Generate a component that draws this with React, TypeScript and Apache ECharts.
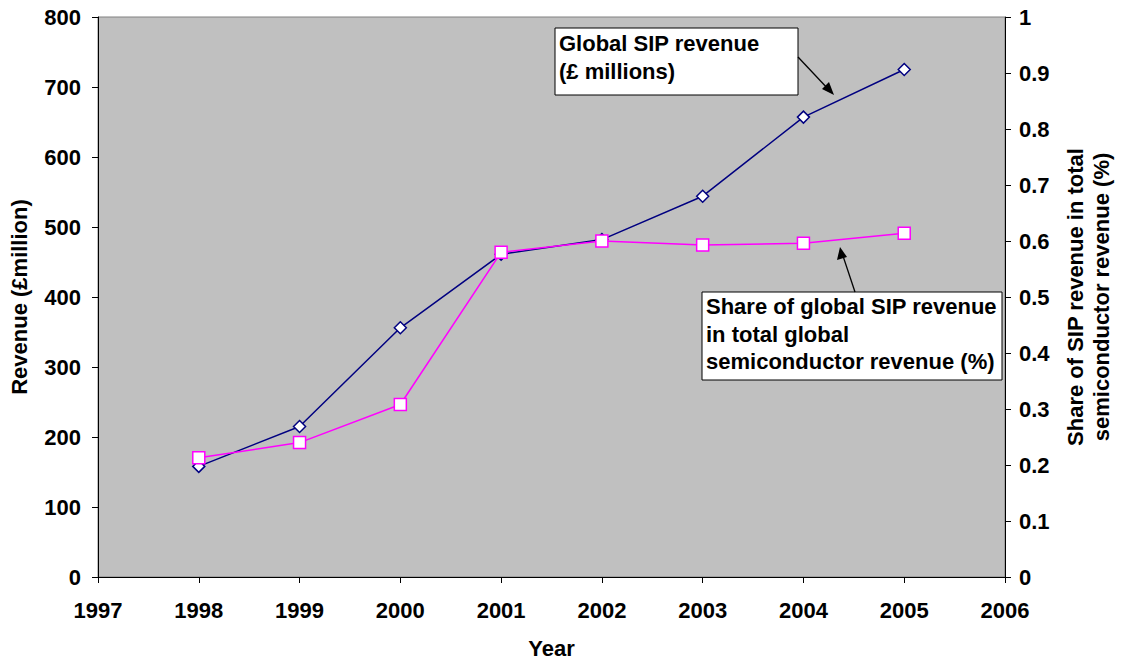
import React, { useEffect, useRef } from "react";
import * as echarts from "echarts";

const years = [1998, 1999, 2000, 2001, 2002, 2003, 2004, 2005];
const revenue = [158, 215, 356, 461, 482, 544, 657, 725];
const share = [0.213, 0.24, 0.308, 0.58, 0.6, 0.593, 0.596, 0.614];

const FONT = "'Liberation Sans', Arial, Helvetica, sans-serif";
const FS = 22;

export default function App() {
  const ref = useRef<HTMLDivElement>(null);
  useEffect(() => {
    if (!ref.current) return;
    const chart = echarts.init(ref.current, null, { renderer: "svg" });
    const axisCommon = {
      axisLine: { show: true, lineStyle: { color: "#000", width: 1 } },
      axisTick: { show: true, length: 6, lineStyle: { color: "#000" } },
      splitLine: { show: false },
      nameTextStyle: { fontFamily: FONT, fontSize: FS, fontWeight: "bold", color: "#000" },
    };
    const labelStyle = { fontFamily: FONT, fontSize: FS, fontWeight: "bold", color: "#000" };
    const textStyle = { fontFamily: FONT, fontSize: FS, fontWeight: "bold", fill: "#000" };
    chart.setOption({
      animation: false,
      textStyle: { fontFamily: FONT },
      grid: {
        left: 98,
        top: 17,
        right: 124,
        bottom: 85,
        show: true,
        backgroundColor: "#C0C0C0",
        borderColor: "#808080",
        borderWidth: 1,
      },
      xAxis: {
        type: "value",
        min: 1997,
        max: 2006,
        interval: 1,
        name: "Year",
        nameLocation: "middle",
        nameGap: 60,
        ...axisCommon,
        axisLabel: { ...labelStyle, margin: 22, formatter: (v: number) => String(v) },
      },
      yAxis: [
        {
          type: "value",
          min: 0,
          max: 800,
          interval: 100,
          name: "Revenue (£million)",
          nameLocation: "middle",
          nameGap: 68,
          ...axisCommon,
          axisLabel: { ...labelStyle, margin: 17 },
        },
        {
          type: "value",
          position: "right",
          min: 0,
          max: 1,
          interval: 0.1,
          name: "Share of SIP revenue in total\nsemiconductor revenue (%)",
          nameLocation: "middle",
          nameGap: 57,
          ...axisCommon,
          nameTextStyle: { ...axisCommon.nameTextStyle, lineHeight: 26 },
          axisLabel: {
            ...labelStyle,
            margin: 14,
            formatter: (v: number) => String(Math.round(v * 10) / 10),
          },
        },
      ],
      series: [
        {
          type: "line",
          name: "Global SIP revenue (£ millions)",
          yAxisIndex: 0,
          data: years.map((y, i) => [y, revenue[i]]),
          symbol: "diamond",
          symbolSize: 12,
          lineStyle: { color: "#000080", width: 1.5 },
          itemStyle: { color: "#fff", borderColor: "#000080", borderWidth: 1.5 },
        },
        {
          type: "line",
          name: "Share of global SIP revenue in total global semiconductor revenue (%)",
          yAxisIndex: 1,
          data: years.map((y, i) => [y, share[i]]),
          symbol: "rect",
          symbolSize: 12,
          lineStyle: { color: "#FF00FF", width: 1.5 },
          itemStyle: { color: "#fff", borderColor: "#FF00FF", borderWidth: 1.5 },
        },
      ],
      graphic: [
        {
          type: "rect",
          shape: { x: 555, y: 28, width: 243, height: 67 },
          style: { fill: "#fff", stroke: "#000", lineWidth: 1 },
          z: 10,
        },
        {
          type: "text",
          x: 559,
          y: 29,
          style: { ...textStyle, text: "Global SIP revenue\n(£ millions)", lineHeight: 28 },
          z: 11,
        },
        {
          type: "line",
          shape: { x1: 798, y1: 57, x2: 830, y2: 91 },
          style: { stroke: "#000", lineWidth: 1.3 },
          z: 10,
        },
        {
          type: "polygon",
          shape: { points: [[834, 95], [822, 89], [829, 82]] },
          style: { fill: "#000" },
          z: 10,
        },
        {
          type: "rect",
          shape: { x: 702, y: 292, width: 300, height: 88 },
          style: { fill: "#fff", stroke: "#000", lineWidth: 1 },
          z: 10,
        },
        {
          type: "text",
          x: 706,
          y: 293,
          style: {
            ...textStyle,
            text: "Share of global SIP revenue\nin total global\nsemiconductor revenue (%)",
            lineHeight: 27.5,
          },
          z: 11,
        },
        {
          type: "line",
          shape: { x1: 855, y1: 292, x2: 842, y2: 253 },
          style: { stroke: "#000", lineWidth: 1.3 },
          z: 10,
        },
        {
          type: "polygon",
          shape: { points: [[840, 247], [837, 260], [847, 257]] },
          style: { fill: "#000" },
          z: 10,
        },
      ],
    });
    return () => chart.dispose();
  }, []);
  return (
    <div
      ref={ref}
      style={{ position: "fixed", left: 0, top: 0, width: 1129, height: 664, background: "#fff" }}
    />
  );
}
